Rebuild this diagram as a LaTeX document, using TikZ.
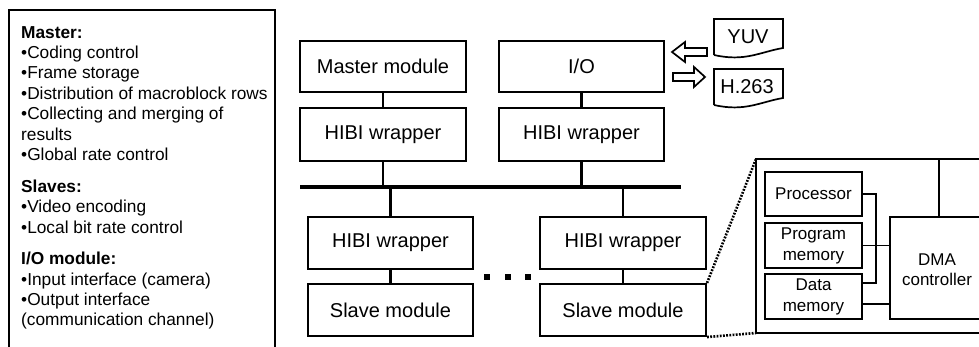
\documentclass[tikz,border=0pt]{standalone}
\usepackage{fontspec}
\setmainfont{Liberation Sans}
\begin{document}
\begin{tikzpicture}[x=1pt,y=-1pt,
  box/.style={draw, line width=2.1pt, rectangle, inner sep=0pt, font=\fontsize{20}{24}\selectfont},
  ibox/.style={draw, line width=1.9pt, rectangle, inner sep=0pt, align=center, font=\fontsize{17}{21}\selectfont},
  conn/.style={line width=2.3pt},
  iconn/.style={line width=1.8pt},
  dotline/.style={line width=2.6pt, dash pattern=on 1.8pt off 1.4pt},
  hollow/.style={draw, line width=1.7pt, fill=white},
  docshape/.style={draw, line width=1.7pt},
  sq/.style={fill=black, minimum size=6pt, inner sep=0pt, rectangle}
]
\useasboundingbox (0,0) rectangle (979,347);
\clip (0,0) rectangle (979,347);

% notes box
\draw[line width=2.2pt] (9,352) -- (9,10) -- (275,10) -- (275,352);
\node[anchor=north west, inner sep=0pt, align=left, font=\fontsize{17.3}{20.4}\selectfont] (notes) at (21,26)
{\textbf{Master:}\\
•Coding control\\
•Frame storage\\
•Distribution of macroblock rows\\
•Collecting and merging of\\
results\\
•Global rate control\\[11.5pt]
\textbf{Slaves:}\\
•Video encoding\\
•Local bit rate control\\[11pt]
\textbf{I/O module:}\\
•Input interface (camera)\\
•Output interface\\
(communication channel)};

% upper modules
\node[box, minimum width=166pt, minimum height=51pt] (master) at (383,66.5) {Master module};
\node[box, minimum width=166pt, minimum height=53pt] (mh) at (383,134.5) {HIBI wrapper};
\node[box, minimum width=165pt, minimum height=51pt] (io) at (581.5,66.5) {I/O};
\node[box, minimum width=165pt, minimum height=53pt] (ioh) at (581.5,134.5) {HIBI wrapper};

% bus
\coordinate (busl) at (300,187);
\coordinate (busr) at (681,187);
\draw[line width=3.4pt] (busl) -- (busr);

% lower modules
\node[box, minimum width=165pt, minimum height=52pt] (s1h) at (390.5,243) {HIBI wrapper};
\node[box, minimum width=165pt, minimum height=52pt] (s1) at (390.5,310) {Slave module};
\node[box, minimum width=166pt, minimum height=52pt] (s2h) at (623,243) {HIBI wrapper};
\node[box, minimum width=166pt, minimum height=52pt] (s2) at (623,310) {Slave module};

\draw[conn] (master) -- (mh);
\draw[conn] (io) -- (ioh);
\draw[conn] (mh.south) -- (mh.south |- busl);
\draw[conn] (ioh.south) -- (ioh.south |- busl);
\draw[conn] (s1h.north |- busl) -- (s1h.north);
\draw[conn] (s2h.north |- busl) -- (s2h.north);
\draw[conn] (s1h) -- (s1);
\draw[conn] (s2h) -- (s2);

% dots
\node[sq] (d1) at (487,277) {};
\node[sq] (d2) at (508,277) {};
\node[sq] (d3) at (528,277) {};

% documents
\node[font=\fontsize{20}{24}\selectfont, inner sep=0pt] (yuv) at (748,36.5) {YUV};
\draw[docshape] (714,55) -- (714,19) -- (783,19) -- (783,48) .. controls (760,52) and (745,62) .. (714,55);
\node[font=\fontsize{20}{24}\selectfont, inner sep=0pt] (h263) at (747,86.5) {H.263};
\draw[docshape] (714,105) -- (714,69) -- (783,69) -- (783,98) .. controls (760,102) and (745,112) .. (714,105);

% hollow arrows
\draw[hollow] (672,52) -- (685,42) -- (685,48) -- (707,48) -- (707,56) -- (685,56) -- (685,62) -- cycle;
\draw[hollow] (705,77) -- (694,67) -- (694,73) -- (673,73) -- (673,81) -- (694,81) -- (694,87) -- cycle;

% zoomed slave
\coordinate (zt) at (756,159);
\coordinate (zb) at (756,333);
\draw[line width=1.8pt] (990,159) -- (zt) -- (zb) -- (990,333);
\node[draw, line width=2pt, minimum width=110pt, minimum height=102pt, anchor=north west, inner sep=0pt] (dma) at (889,216) {};
\node[align=center, font=\fontsize{17}{20}\selectfont, inner sep=0pt] (dmatext) at (937,270) {DMA\\controller};
\coordinate (vt) at (939,159);
\draw[iconn] (vt) -- (vt |- dma.north);

\node[ibox, minimum width=97pt, minimum height=44pt] (proc) at (813.5,194) {Processor};
\node[ibox, minimum width=97pt, minimum height=45pt] (prog) at (813.5,245.5) {Program\\memory};
\node[ibox, minimum width=97pt, minimum height=45pt] (dat) at (813.5,296.5) {Data\\memory};

\draw[iconn] (proc.east) -- (876,194) -- (876,283) -- (dat.east |- 876,283);
\draw[iconn] (prog.east) -- (prog.east -| dma.west);
\draw[iconn] (dat.east |- 0,304) -- (dma.west |- 0,304);

\draw[dotline] (s2.north east) -- (zt);
\draw[dotline] (s2.south east) -- (zb);
\end{tikzpicture}
\end{document}
